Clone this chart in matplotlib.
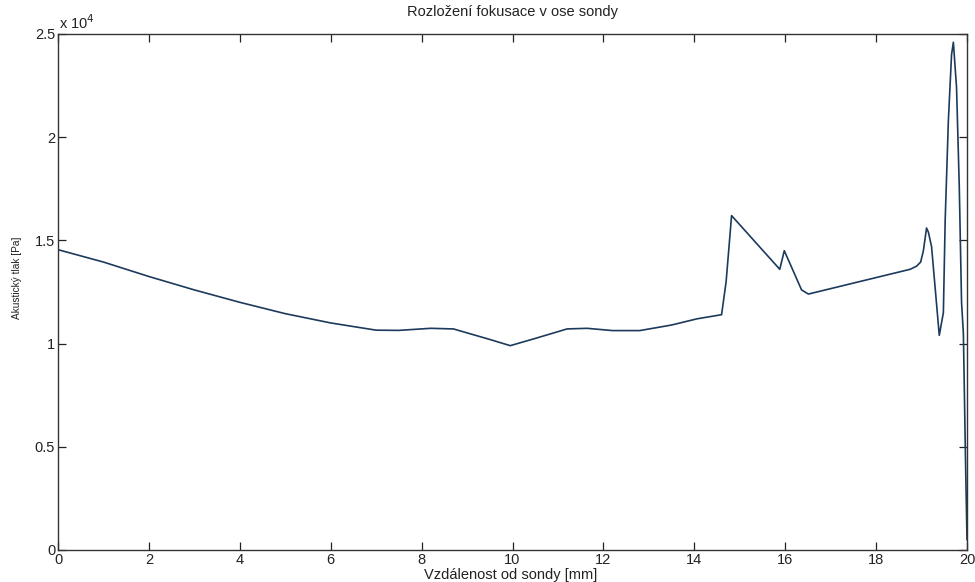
import matplotlib
matplotlib.use("Agg")
import matplotlib.pyplot as plt
from matplotlib.ticker import FuncFormatter

# distance from probe [mm] and acoustic pressure [Pa]
dist = [0, 0.5, 1, 2, 3, 4, 5, 6, 7, 7.5, 8.2, 8.7, 9.5, 9.95, 10.5, 11.2,
        11.64, 12.2, 12.8, 13.5, 14.06, 14.6, 14.7, 14.82, 15.88, 15.98,
        16.36, 16.51, 18.75, 18.89, 18.98, 19.04, 19.11, 19.15, 19.22, 19.39,
        19.48, 19.52, 19.59, 19.66, 19.70, 19.77, 19.83, 19.88, 19.92, 19.97, 20.0]
pressure = [14550, 14250, 13950, 13250, 12600, 12000, 11450, 11000, 10650, 10640,
            10740, 10710, 10200, 9900, 10250, 10710, 10740, 10630, 10630, 10900,
            11200, 11400, 13000, 16200, 13600, 14500, 12600, 12400, 13600, 13750,
            13950, 14500, 15600, 15400, 14700, 10400, 11500, 16000, 20800, 24000,
            24600, 22400, 17600, 12000, 10500, 4000, 500]

xticks = [0, 2, 4, 6, 8, 10, 12, 14, 16, 18, 20]
yticks = [0, 5000, 10000, 15000, 20000, 25000]

plt.rcParams['font.family'] = ['Liberation Sans', 'DejaVu Sans']
txt = '#222222'

fig = plt.figure(figsize=(9.75, 5.82), dpi=100)
ax = fig.add_axes([0.0595, 0.055, 0.9323, 0.8866])

ax.plot(dist, pressure, color='#1c3a5c', lw=1.2)

ax.set_xlim(0, 20)
ax.set_ylim(0, 25000)
ax.set_xticks(xticks)
ax.set_yticks(yticks)
ax.yaxis.set_major_formatter(FuncFormatter(lambda v, p: '%g' % (v / 1e4)))
ax.tick_params(direction='in', top=True, right=True, length=6, width=0.9,
               labelsize=10.5, pad=2, colors=txt)
for s in ax.spines.values():
    s.set_color('#333333')
    s.set_linewidth(1.0)

ax.text(0.001, 1.004, r'x 10$^4$', transform=ax.transAxes, fontsize=10.5,
        ha='left', va='bottom', color=txt)
ax.set_title('Rozložení fokusace v ose sondy', fontsize=10.5, pad=13, color=txt)
fig.text(511 / 975, 1 - 575 / 582, 'Vzdálenost od sondy [mm]', fontsize=10.5,
         ha='center', va='center', color=txt)
fig.text(17 / 975, 1 - 278 / 582, 'Akustický tlak [Pa]', fontsize=7.3,
         ha='center', va='center', rotation=90, color=txt)

fig.savefig('out.png', dpi=100)
